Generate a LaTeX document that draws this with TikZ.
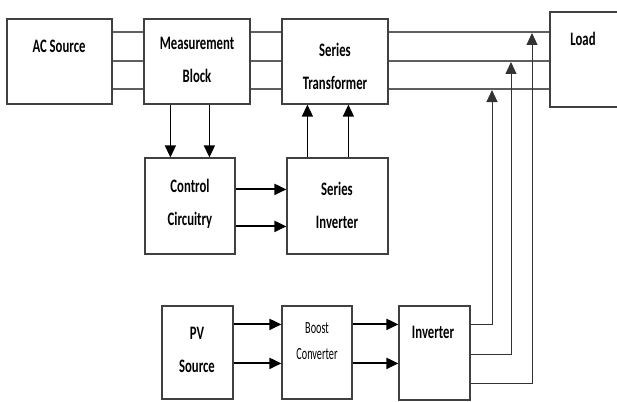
\documentclass[tikz,border=0pt]{standalone}
\usepackage{fontspec}
\setmainfont{Carlito}[FakeStretch=0.67]
\newfontfamily\narrowfont{Carlito}[FakeStretch=0.6]
\usetikzlibrary{arrows.meta}
\definecolor{boxgray}{RGB}{64,64,64}
\definecolor{wiregray}{RGB}{95,95,95}

\begin{document}
\begin{tikzpicture}[x=1pt, y=-1pt,
    blk/.style={draw=boxgray, line width=1.2pt, rectangle, inner sep=0pt},
    lbl/.style={font=\fontsize{19}{33}\selectfont\bfseries, align=center},
    wire/.style={draw=wiregray, line width=1.8pt},
    arr/.style={-{Triangle[length=12pt,width=11pt]}, line width=1.4pt},
    harr/.style={arr, line width=2pt},
    fb/.style={-{Triangle[length=12pt,width=11pt]}, line width=1pt, draw=black!80}]

    \useasboundingbox (0,0) rectangle (617,401);

    % blocks
    \node[blk, minimum width=105, minimum height=85] (ac) at (59.5,61.5) {};
    \node[blk, minimum width=106, minimum height=85] (meas) at (197,61.5) {};
    \node[blk, minimum width=106, minimum height=85] (tr) at (335,61.5) {};
    \node[blk, minimum width=68, minimum height=95] (load) at (584,59.5) {};
    \node[blk, minimum width=90, minimum height=96] (cc) at (190,206) {};
    \node[blk, minimum width=101, minimum height=96] (si) at (337.5,206) {};
    \node[blk, minimum width=71, minimum height=93] (pv) at (197.5,352.5) {};
    \node[blk, minimum width=70, minimum height=93] (bc) at (317,352.5) {};
    \node[blk, minimum width=71, minimum height=94] (inv) at (434.5,353) {};

    % labels
    \node[lbl] (actxt) at (59,46) {AC Source};
    \node[lbl] (meastxt) at (197,60) {Measurement\\Block};
    \node[lbl] (trtxt) at (335,66) {Series\\Transformer};
    \node[lbl] (loadtxt) at (583,39) {Load};
    \node[lbl] (cctxt) at (190,203.5) {Control\\Circuitry};
    \node[lbl] (sitxt) at (337,205.5) {Series\\Inverter};
    \node[lbl] (pvtxt) at (197,349.5) {PV\\Source};
    \node[align=center, font=\narrowfont\fontsize{17}{26}\selectfont] (bctxt) at (317,341) {Boost\\Converter};
    \node[lbl] (invtxt) at (433,332) {Inverter};

    % three phase lines
    \foreach \dy in {14,43,71} {
        \draw[wire] ([yshift=-\dy]ac.north east) -- ([yshift=-\dy]meas.north west);
        \draw[wire] ([yshift=-\dy]meas.north east) -- ([yshift=-\dy]tr.north west);
        \draw[wire] ([yshift=-\dy]tr.north east) coordinate (w\dy) -- (w\dy -| load.west);
    }

    % measurement to control, inverter to transformer
    \foreach \dx in {27,66}
        \draw[arr] ([xshift=\dx]meas.south west) -- ([xshift=\dx]meas.south west |- cc.north);
    \foreach \dx in {21,62}
        \draw[arr] ([xshift=\dx]si.north west) -- ([xshift=\dx]si.north west |- tr.south);
    \foreach \dy in {32,69}
        \draw[harr] ([yshift=-\dy]cc.north east) -- ([yshift=-\dy]cc.north east -| si.west);

    % pv branch
    \foreach \dy in {19,58} {
        \draw[harr] ([yshift=-\dy]pv.north east) -- ([yshift=-\dy]pv.north east -| bc.west);
        \draw[harr] ([yshift=-\dy]bc.north east) -- ([yshift=-\dy]bc.north east -| inv.west);
    }

    \coordinate (tapA) at (532,33);
    \coordinate (tapB) at (511,62);
    \coordinate (tapC) at (492,90);
    \draw[fb] ([yshift=-19]inv.north east) -| (tapC);
    \draw[fb] ([yshift=-49]inv.north east) -| (tapB);
    \draw[fb] ([yshift=-78]inv.north east) -| (tapA);
\end{tikzpicture}
\end{document}
